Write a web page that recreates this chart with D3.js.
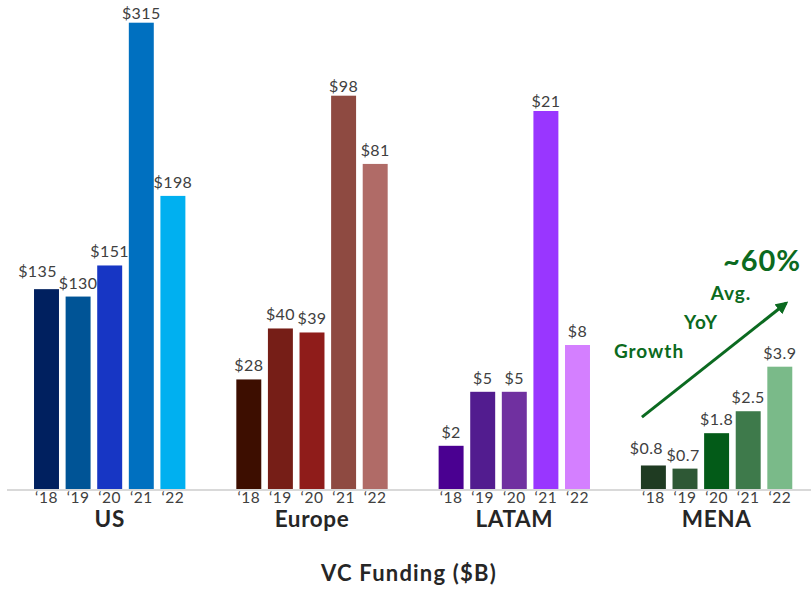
<!DOCTYPE html>
<html>
<head>
<meta charset="utf-8">
<script src="https://cdn.jsdelivr.net/npm/d3@7"></script>
<style>
  html, body { margin: 0; padding: 0; background: #fff; }
  svg text { font-family: Lato, "Open Sans", sans-serif; }
</style>
</head>
<body>
<div id="chart"></div>
<script>
// data
const groups = ["US", "Europe", "LATAM", "MENA"];
const years = ["\u201818", "\u201819", "\u201820", "\u201821", "\u201822"];

const usValues = [135, 130, 151, 315, 198];
const europeValues = [27.3, 40, 39, 98, 81];
const latamValues = [2.4, 5.4, 5.4, 21, 8.0];
const menaValues = [0.75, 0.65, 1.78, 2.48, 3.9];

const usLabels = ["$135", "$130", "$151", "$315", "$198"];
const europeLabels = ["$28", "$40", "$39", "$98", "$81"];
const latamLabels = ["$2", "$5", "$5", "$21", "$8"];
const menaLabels = ["$0.8", "$0.7", "$1.8", "$2.5", "$3.9"];

const usColors = ["#00205f", "#005496", "#1736c4", "#0070c0", "#00b0f0"];
const europeColors = ["#3d0e00", "#761e17", "#8f1c1a", "#8e4a41", "#b06b67"];
const latamColors = ["#4a0091", "#521c8f", "#7030a0", "#9936ff", "#d47fff"];
const menaColors = ["#1f3b22", "#2e5835", "#035b18", "#3e7a4b", "#7aba89"];

const seriesValues = [usValues, europeValues, latamValues, menaValues];
const seriesLabels = [usLabels, europeLabels, latamLabels, menaLabels];
const seriesColors = [usColors, europeColors, latamColors, menaColors];

// each region has its own vertical scale; this is where its max bar tops out
const groupTop = [22.7, 95.7, 111, 366.7];

const width = 811, height = 589;
const baseY = 489;
const textColor = "#404040";
const green = "#0b6a20";

const svg = d3.select("#chart").append("svg")
  .attr("width", width)
  .attr("height", height);

const x0 = d3.scaleBand()
  .domain(groups)
  .range([30.7, 795.6])
  .paddingInner(0.219)
  .paddingOuter(0);

const x1 = d3.scaleBand()
  .domain(years)
  .range([0, x0.bandwidth()])
  .paddingInner(0.21)
  .paddingOuter(0.105);

const yScales = groups.map((g, i) => d3.scaleLinear()
  .domain([0, d3.max(seriesValues[i])])
  .range([baseY, groupTop[i]]));

const rows = groups.flatMap((g, gi) => years.map((yr, yi) => ({
  group: g, gi, year: yr, yi,
  value: seriesValues[gi][yi],
  label: seriesLabels[gi][yi],
  color: seriesColors[gi][yi]
})));

// baseline
svg.append("line")
  .attr("x1", 7).attr("x2", width)
  .attr("y1", baseY + 1).attr("y2", baseY + 1)
  .attr("stroke", "#d9d9d9")
  .attr("stroke-width", 2);

svg.selectAll(".bar")
  .data(rows)
  .join("rect")
  .attr("class", "bar")
  .attr("x", d => x0(d.group) + x1(d.year))
  .attr("y", d => yScales[d.gi](d.value))
  .attr("width", x1.bandwidth())
  .attr("height", d => baseY - yScales[d.gi](d.value))
  .attr("fill", d => d.color);

// some labels were nudged in the original to avoid overlap
const nudge = {
  "US|\u201818": [-9, -4],
  "MENA|\u201818": [-7, -3],
  "MENA|\u201819": [-2, 0]
};
const labelGap = top => top < 120 ? 4 : 8;
const nd = d => nudge[d.group + "|" + d.year] || [0, 0];

svg.selectAll(".val")
  .data(rows)
  .join("text")
  .attr("class", "val")
  .attr("x", d => x0(d.group) + x1(d.year) + x1.bandwidth() / 2 + nd(d)[0])
  .attr("y", d => {
    const top = yScales[d.gi](d.value);
    return top - labelGap(top) + nd(d)[1];
  })
  .attr("text-anchor", "middle")
  .attr("fill", textColor)
  .style("font-size", "16px")
  .style("letter-spacing", "0.4px")
  .text(d => d.label);

// year ticks under each group
groups.forEach(g => {
  svg.append("g")
    .attr("transform", `translate(${x0(g)},${baseY})`)
    .call(d3.axisBottom(x1).tickSize(0).tickPadding(3))
    .call(a => a.select(".domain").remove())
    .selectAll("text")
    .attr("fill", textColor)
    .style("font-family", "Lato, sans-serif")
    .style("font-size", "15.5px")
    .style("letter-spacing", "0.5px");
});

// region names
svg.append("g")
  .attr("transform", `translate(0,${baseY})`)
  .call(d3.axisBottom(x0).tickSize(0).tickPadding(22))
  .call(a => a.select(".domain").remove())
  .selectAll("text")
  .attr("fill", "#262626")
  .style("font-family", "Lato, sans-serif")
  .style("font-weight", "bold")
  .style("font-size", "22.5px")
  .style("letter-spacing", "0.6px");

svg.append("text")
  .attr("x", 409)
  .attr("y", 581)
  .attr("text-anchor", "middle")
  .attr("fill", "#262626")
  .style("font-weight", "bold")
  .style("font-size", "22px")
  .style("letter-spacing", "1.2px")
  .text("VC Funding ($B)");

// growth annotation on MENA
const yM = yScales[3];
const xM = x0("MENA");
const ax1 = xM + x1(years[0]) + 1, ay1 = yM(2.29);
const ax2 = xM + x1(years[4]) + x1.bandwidth() - 6, ay2 = yM(5.93);

svg.append("defs").append("marker")
  .attr("id", "head")
  .attr("viewBox", "0 0 10 10")
  .attr("refX", 8).attr("refY", 5)
  .attr("markerWidth", 4.2).attr("markerHeight", 4.2)
  .attr("orient", "auto")
  .append("path")
  .attr("d", "M0,0L10,5L0,10Z")
  .attr("fill", green);

svg.append("line")
  .attr("x1", ax1).attr("y1", ay1)
  .attr("x2", ax2).attr("y2", ay2)
  .attr("stroke", green)
  .attr("stroke-width", 3)
  .attr("marker-end", "url(#head)");

const notes = [
  { text: "~60%", x: 762, y: 271, size: 29 },
  { text: "Avg.", x: 731, y: 300, size: 19 },
  { text: "YoY", x: 701, y: 329, size: 19 },
  { text: "Growth", x: 649, y: 358, size: 19 }
];
svg.selectAll(".note")
  .data(notes)
  .join("text")
  .attr("class", "note")
  .attr("x", d => d.x)
  .attr("y", d => d.y)
  .attr("text-anchor", "middle")
  .attr("fill", green)
  .style("font-weight", "bold")
  .style("letter-spacing", "1px")
  .style("font-size", d => d.size + "px")
  .text(d => d.text);
</script>
</body>
</html>
